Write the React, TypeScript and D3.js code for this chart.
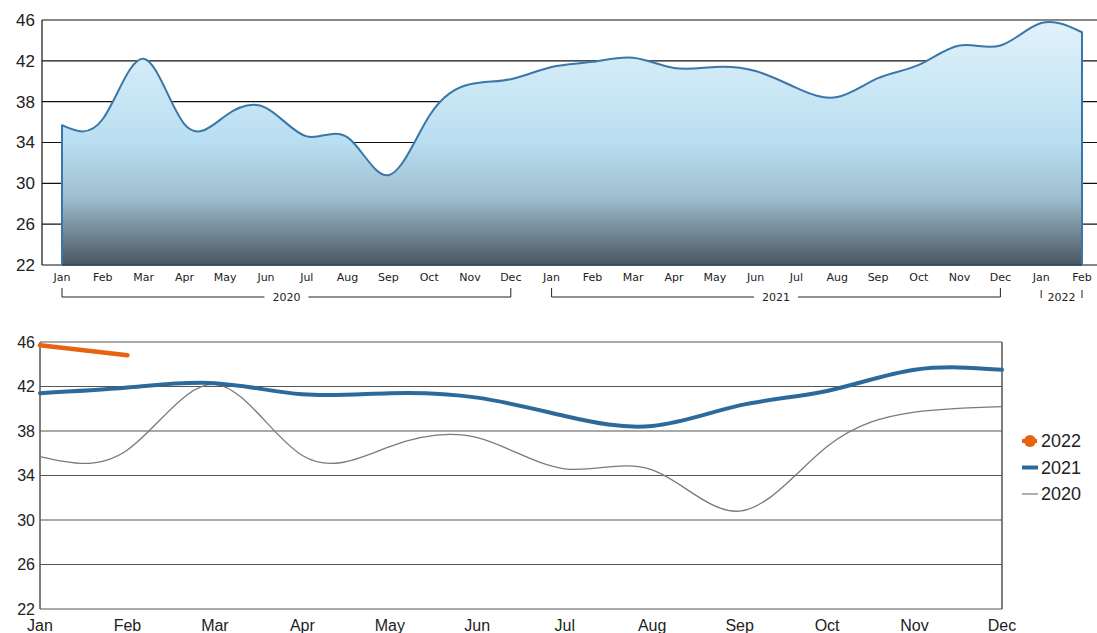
import React from "react";
import * as d3 from "d3";

const monthNames = ["Jan","Feb","Mar","Apr","May","Jun","Jul","Aug","Sep","Oct","Nov","Dec"];
const values2020 = [35.7, 36.3, 42.2, 35.8, 36.6, 37.4, 34.6, 34.5, 30.8, 36.6, 39.7, 40.2];
const values2021 = [41.4, 41.9, 42.3, 41.3, 41.4, 41.0, 39.35, 38.45, 40.3, 41.6, 43.5, 43.5];
const values2022 = [45.7, 44.8];
const yTicks = [22, 26, 30, 34, 38, 42, 46];
const years = ["2020", "2021", "2022"];

const series = [
  { year: "2020", values: values2020 },
  { year: "2021", values: values2021 },
  { year: "2022", values: values2022 },
];

const timeline = series.flatMap((s) => s.values.map((v, i) => ({ key: `${s.year}-${i}`, month: monthNames[i], year: s.year, value: v })));

const curve = d3.curveNatural;

export default function App() {
  const W = 1097, H = 633;
  // top chart
  const tx = d3.scalePoint<string>().domain(timeline.map((d) => d.key)).range([62, 1082]);
  const ty = d3.scaleLinear().domain([22, 46]).range([265, 20]);
  const area = d3.area<any>().x((d) => tx(d.key)!).y0(ty(22)).y1((d) => ty(d.value)).curve(curve);
  const line = d3.line<any>().x((d) => tx(d.key)!).y((d) => ty(d.value)).curve(curve);
  const topPath = area(timeline)!;
  const first = timeline[0], last = timeline[timeline.length - 1];
  const linePath = line(timeline)!;
  const outline = `M${tx(first.key)},${ty(22)}L` + linePath.slice(1) + `L${tx(last.key)},${ty(22)}`;

  // bottom chart
  const bx = d3.scalePoint<string>().domain(monthNames).range([40, 1002]);
  const by = d3.scaleLinear().domain([22, 46]).range([609, 342]);
  const bline = d3.line<number>().x((_, i) => bx(monthNames[i])!).y((d) => by(d)).curve(curve);

  const styleByYear: Record<string, { stroke: string; width: number }> = {
    "2020": { stroke: "#7a7a7a", width: 1.3 },
    "2021": { stroke: "#2d6a9c", width: 4 },
    "2022": { stroke: "#e8620f", width: 4.5 },
  };

  return (
    <svg width={W} height={H} style={{ position: "absolute", left: 0, top: 0, background: "#fff" }}>
      <defs>
        <linearGradient id="topFill" gradientUnits="userSpaceOnUse" x1="0" y1={ty(46)} x2="0" y2={ty(22)}>
          <stop offset="0" stopColor="#e2f2fa" />
          <stop offset="0.5" stopColor="#b8def1" />
          <stop offset="0.72" stopColor="#9fc0d0" />
          <stop offset="1" stopColor="#4a5660" />
        </linearGradient>
      </defs>

      {/* TOP CHART */}
      {yTicks.map((t) => (
        <g key={`tg${t}`}>
          <line x1={42} x2={W} y1={ty(t)} y2={ty(t)} stroke="#111" strokeWidth={1.2} />
          <text x={35} y={ty(t)} dy="0.35em" textAnchor="end" fontFamily="Liberation Sans, Arial, sans-serif" fontSize={17} fill="#222">{t}</text>
        </g>
      ))}
      <line x1={42} x2={42} y1={ty(46)} y2={ty(22)} stroke="#111" strokeWidth={1.2} />
      <path d={topPath} fill="url(#topFill)" />
      <path d={outline} fill="none" stroke="#3a77a8" strokeWidth={2} strokeLinejoin="round" />
      <line x1={tx(first.key)!} x2={tx(last.key)!} y1={ty(22)} y2={ty(22)} stroke="#2d4a60" strokeWidth={1.5} />
      {timeline.map((d) => (
        <text key={`tm${d.key}`} x={tx(d.key)!} y={281} textAnchor="middle" fontFamily="DejaVu Sans, Verdana, sans-serif" fontSize={11} fill="#222">{d.month}</text>
      ))}
      {years.map((yr) => {
        const pts = timeline.filter((d) => d.year === yr);
        const x0 = tx(pts[0].key)!, x1 = tx(pts[pts.length - 1].key)!;
        const mid = (x0 + x1) / 2;
        const gap = 22;
        const showLine = x1 - x0 > 60;
        return (
          <g key={`yr${yr}`}>
            <line x1={x0} x2={x0} y1={showLine ? 288 : 290} y2={showLine ? 297 : 298} stroke="#222" />
            <line x1={x1} x2={x1} y1={showLine ? 288 : 290} y2={showLine ? 297 : 298} stroke="#222" />
            {showLine && <line x1={x0} x2={mid - gap} y1={297} y2={297} stroke="#222" />}
            {showLine && <line x1={mid + gap} x2={x1} y1={297} y2={297} stroke="#222" />}
            <text x={mid} y={297} dy="0.35em" textAnchor="middle" fontFamily="DejaVu Sans, Verdana, sans-serif" fontSize={11} fill="#222">{yr}</text>
          </g>
        );
      })}

      {/* BOTTOM CHART */}
      {yTicks.map((t) => (
        <g key={`bg${t}`}>
          <line x1={40} x2={1002} y1={by(t)} y2={by(t)} stroke="#555" strokeWidth={1.2} />
          <text x={35} y={by(t)} dy="0.35em" textAnchor="end" fontFamily="Liberation Sans, Arial, sans-serif" fontSize={16} fill="#222">{t}</text>
        </g>
      ))}
      <line x1={40} x2={40} y1={by(46)} y2={by(22)} stroke="#555" strokeWidth={1.5} />
      <line x1={1002} x2={1002} y1={by(46)} y2={by(22)} stroke="#555" strokeWidth={1.5} />
      {monthNames.map((m) => (
        <text key={`bm${m}`} x={bx(m)!} y={631} textAnchor="middle" fontFamily="Liberation Sans, Arial, sans-serif" fontSize={16} fill="#222">{m}</text>
      ))}
      {series.map((s) => (
        <path key={`bl${s.year}`} d={bline(s.values)!} fill="none" stroke={styleByYear[s.year].stroke} strokeWidth={styleByYear[s.year].width} strokeLinecap="round" />
      ))}

      {/* LEGEND */}
      {["2022", "2021", "2020"].map((yr, i) => {
        const yy = 441 + i * 26.5;
        const st = styleByYear[yr];
        return (
          <g key={`lg${yr}`}>
            {yr === "2022" ? (
              <g>
                <line x1={1022} x2={1037} y1={yy} y2={yy} stroke={st.stroke} strokeWidth={4} />
                <circle cx={1030} cy={yy} r={6} fill={st.stroke} />
              </g>
            ) : (
              <line x1={1022} x2={1038} y1={yy} y2={yy} stroke={st.stroke} strokeWidth={yr === "2021" ? 4 : 1.2} />
            )}
            <text x={1041} y={yy} dy="0.36em" fontFamily="Liberation Sans, Arial, sans-serif" fontSize={18} fill="#222">{yr}</text>
          </g>
        );
      })}
    </svg>
  );
}
